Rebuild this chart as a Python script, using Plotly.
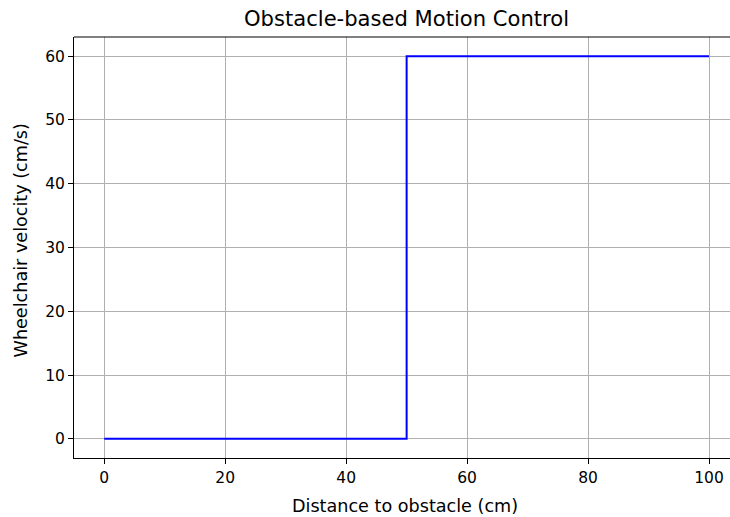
import plotly.graph_objects as go

distance = [0, 50, 100]
velocity = [0, 60, 60]
x_ticks = [0, 20, 40, 60, 80, 100]
y_ticks = [0, 10, 20, 30, 40, 50, 60]

W, H = 730, 517
L, R, T, B = 74, 0, 37, 59
PW = W - L - R
PH = H - T - B
font = "DejaVu Sans"
TICK, LAB, TTL = 15.5, 17.6, 21.1

fig = go.Figure()
fig.add_trace(go.Scatter(x=distance, y=velocity, mode="lines", line_shape="hv",
                         line=dict(color="#0000ff", width=2), showlegend=False))

fig.update_layout(
    width=W, height=H,
    margin=dict(l=L, r=R, t=T, b=B, pad=0, autoexpand=False),
    paper_bgcolor="white", plot_bgcolor="white",
    font=dict(family=font, size=TICK, color="black"),
    showlegend=False,
    annotations=[
        dict(text="Obstacle-based Motion Control", xref="paper", yref="paper",
             x=(406 - L) / PW, y=1, yshift=19, xanchor="center", yanchor="middle",
             showarrow=False, font=dict(size=TTL, family=font)),
        dict(text="Distance to obstacle (cm)", xref="paper", yref="paper",
             x=(405 - L) / PW, y=0, yshift=-48, xanchor="center", yanchor="middle",
             showarrow=False, font=dict(size=LAB, family=font)),
        dict(text="Wheelchair velocity (cm/s)", xref="paper", yref="paper",
             x=(21 - L) / PW, y=1 - (240.5 - T) / PH, textangle=-90,
             xanchor="center", yanchor="middle",
             showarrow=False, font=dict(size=LAB, family=font)),
    ],
    shapes=[dict(type="line", xref="paper", yref="paper", x0=0, x1=1, y0=1, y1=1,
                 line=dict(color="black", width=1))],
)
fig.update_xaxes(range=[-5, 103.47], tickvals=x_ticks, ticks="outside", ticklen=5,
                 tickcolor="black", tickwidth=1, showline=True, linecolor="black", linewidth=1,
                 showgrid=True, gridcolor="#b0b0b0", gridwidth=1, zeroline=False,
                 automargin=False, tickfont=dict(size=TICK, family=font))
fig.update_yaxes(range=[-3, 63], tickvals=y_ticks, ticks="outside", ticklen=5,
                 tickcolor="black", tickwidth=1, showline=True, linecolor="black", linewidth=1,
                 showgrid=True, gridcolor="#b0b0b0", gridwidth=1, zeroline=False,
                 automargin=False, tickfont=dict(size=TICK, family=font))

fig.write_html("out.html", config={"displayModeBar": False},
               post_script="document.body.style.margin='0';document.body.style.overflow='hidden';")
